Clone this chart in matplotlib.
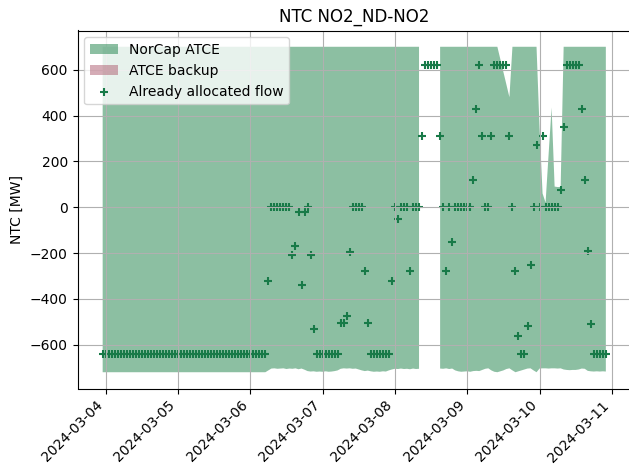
import numpy as np
import pandas as pd
import matplotlib
matplotlib.use("Agg")
import matplotlib.pyplot as plt

nan = np.nan

# hourly values, 2024-03-03 23:00 .. 2024-03-10 22:00 (one row = 24 h)
times = pd.date_range("2024-03-03 23:00", periods=168, freq="h")

norcap_upper = [
    700, 700, 700, 700, 700, 700, 700, 700, 700, 700, 700, 700,
    700, 700, 700, 700, 700, 700, 700, 700, 700, 700, 700, 700,
    700, 700, 700, 700, 700, 700, 700, 700, 700, 700, 700, 700,
    700, 700, 700, 700, 700, 700, 700, 700, 700, 700, 700, 700,
    700, 700, 700, 700, 700, 700, 700, 700, 700, 700, 700, 700,
    700, 700, 700, 700, 700, 700, 700, 700, 700, 700, 700, 700,
    700, 700, 700, 700, 700, 700, 700, 700, 700, 700, 700, 700,
    700, 700, 700, 700, 700, 700, 700, 700, 700, 700, 700, 700,
    700, 700, 700, 700, 700, 700, 700, 700, 700, 700, nan, nan,
    nan, nan, nan, nan, 700, 700, 700, 700, 700, 700, 700, 700,
    700, 700, 700, 700, 700, 700, 700, 700, 700, 700, 700, 700,
    645, 590, 535, 480, 700, 700, 700, 700, 700, 700, 700, 700,
    700, 345, 60, 20, 230, 435, 90, 88, 88, 700, 700, 700,
    700, 700, 700, 700, 700, 700, 700, 700, 700, 700, 700, 700,
]
norcap_lower = [
    -720, -720, -720, -720, -720, -720, -720, -720, -720, -720, -720, -720,
    -720, -720, -720, -720, -720, -720, -720, -720, -720, -720, -720, -720,
    -720, -720, -720, -720, -720, -720, -720, -720, -720, -720, -720, -720,
    -720, -720, -720, -720, -720, -720, -720, -720, -720, -720, -720, -720,
    -720, -720, -720, -720, -720, -720, -720, -712, -704, -703, -705, -704,
    -703, -706, -704, -705, -703, -707, -704, -709, -715, -717, -716, -718,
    -717, -718, -716, -718, -717, -715, -712, -705, -703, -704, -703, -705,
    -704, -708, -712, -715, -713, -716, -718, -717, -718, -716, -717, -712,
    -708, -705, -706, -704, -706, -705, -707, -704, -706, -705, nan, nan,
    nan, nan, nan, nan, -704, -705, -703, -706, -704, -712, -716, -718,
    -717, -716, -718, -715, -714, -715, -710, -705, -703, -712, -718, -720,
    -716, -712, -706, -703, -712, -720, -716, -712, -708, -704, -703, -712,
    -720, -704, -703, -703, -704, -703, -703, -704, -703, -708, -710, -711,
    -710, -710, -708, -704, -705, -714, -716, -717, -716, -717, -716, -717,
]
allocated_flow = [
    -640, -640, -640, -640, -640, -640, -640, -640, -640, -640, -640, -640,
    -640, -640, -640, -640, -640, -640, -640, -640, -640, -640, -640, -640,
    -640, -640, -640, -640, -640, -640, -640, -640, -640, -640, -640, -640,
    -640, -640, -640, -640, -640, -640, -640, -640, -640, -640, -640, -640,
    -640, -640, -640, -640, -640, -640, -640, -320, 0, 0, 0, 0,
    0, 0, 0, -210, -170, -20, -340, -20, 0, -210, -530, -640,
    -640, -640, -640, -640, -640, -640, -640, -505, -505, -475, -195, 0,
    0, 0, 0, -280, -505, -640, -640, -640, -640, -640, -640, -640,
    -320, 0, -50, 0, 0, 0, -280, 0, 0, 0, 310, 620,
    620, 620, 620, 620, 310, 0, -280, 0, -150, 0, 0, 0,
    0, 0, 0, 120, 430, 620, 310, 0, 0, 310, 620, 620,
    620, 620, 620, 310, 0, -280, -560, -640, -640, -520, -250, 0,
    270, 0, 310, 0, 0, 0, 0, 0, 75, 350, 620, 620,
    620, 620, 620, 430, 120, -190, -510, -640, -640, -640, -640, -640,
]

# no backup capacity in this week
backup_times = []
backup_upper = []
backup_lower = []

GREEN = "#2e8b57"
FLOW = "#187a48"
PINK = "#ad5b6e"

fig = plt.figure(figsize=(6.29, 4.65), dpi=100)
ax = fig.add_axes([77.5 / 629, 1 - 388.5 / 465, (631 - 77.5) / 629, (388.5 - 30.5) / 465])

ax.fill_between(times, norcap_lower, norcap_upper, color=GREEN, alpha=0.55,
                lw=0, label="NorCap ATCE")
ax.fill_between(backup_times, backup_lower, backup_upper, color=PINK,
                alpha=0.5, lw=0, label="ATCE backup")
ax.scatter(times, allocated_flow, marker="+", color=FLOW,
           label="Already allocated flow")

ax.set_title("NTC NO2_ND-NO2")
ax.set_ylabel("NTC [MW]")
ax.grid(True)
ax.legend(loc="upper left")
plt.setp(ax.get_xticklabels(), rotation=45, ha="right")

fig.savefig("out.png", dpi=100)
